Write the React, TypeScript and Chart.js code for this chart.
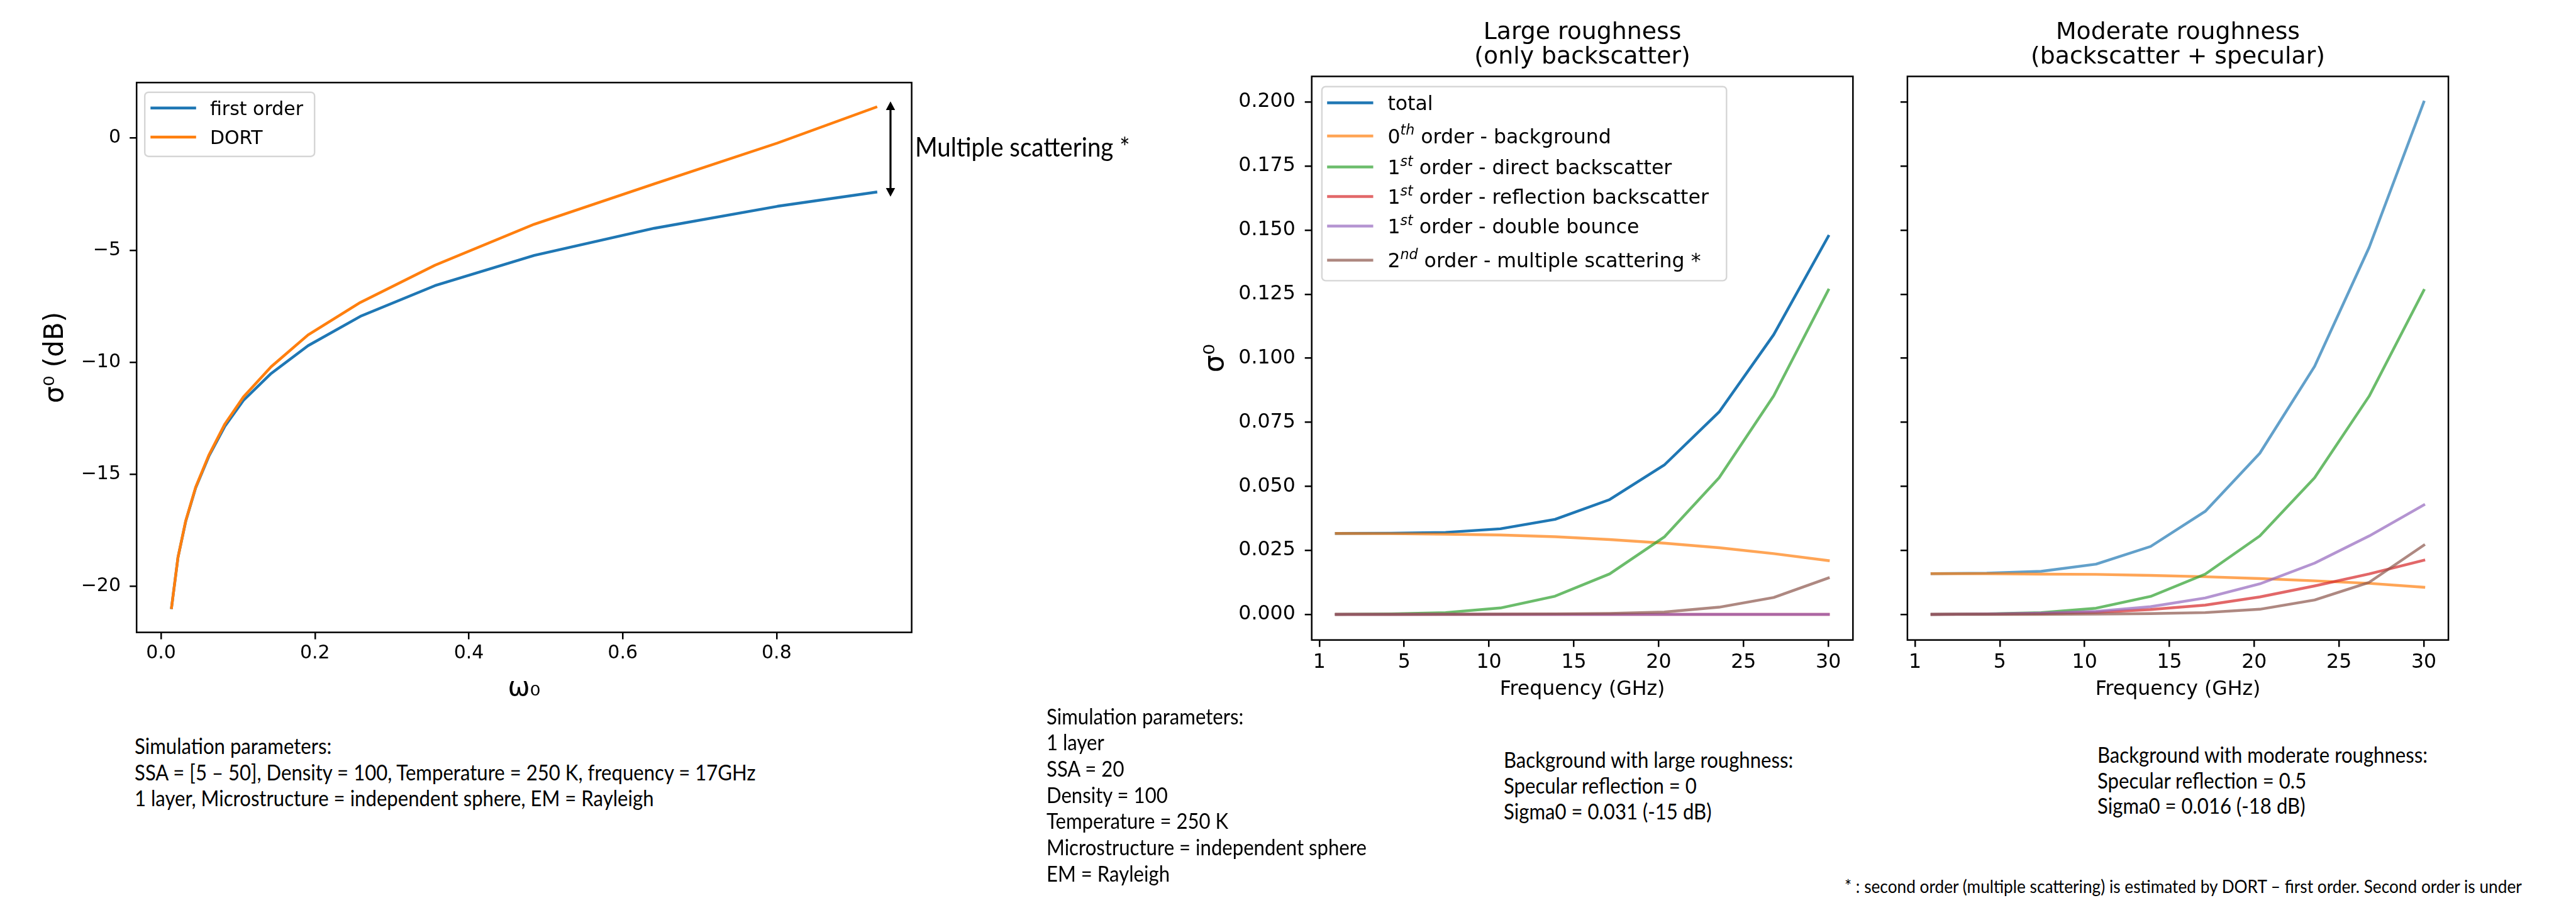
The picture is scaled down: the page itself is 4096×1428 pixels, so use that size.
import React, { useEffect, useRef, useState } from 'react';
import { Chart, registerables } from 'chart.js';

Chart.register(...registerables);

// ---------------- data ----------------
// Left panel: sigma0 (dB) versus single scattering albedo omega0
const omega0 = [0.0136, 0.022, 0.032, 0.045, 0.062, 0.083, 0.107, 0.143, 0.191, 0.259, 0.356, 0.485, 0.641, 0.801, 0.929];
const firstOrderDb = [-20.95, -18.7, -17.1, -15.6, -14.2, -12.85, -11.7, -10.5, -9.26, -7.95, -6.58, -5.23, -4.02, -3.04, -2.41];
const dortDb = [-20.95, -18.7, -17.08, -15.57, -14.15, -12.75, -11.55, -10.2, -8.78, -7.33, -5.67, -3.84, -2.04, -0.22, 1.38];
const leftLabels = ['first order', 'DORT'];
const omegaTicks = [0, 0.2, 0.4, 0.6, 0.8];
const sigmaDbTicks = [-20, -15, -10, -5, 0];

// Right panels: sigma0 versus frequency
const freqGHz = [1, 4.22, 7.44, 10.67, 13.89, 17.11, 20.33, 23.56, 26.78, 30];
const freqTickValues = [0, 5, 10, 15, 20, 25, 30];
const freqTickLabels = ['1', '5', '10', '15', '20', '25', '30'];
const sigmaTicks = [0, 0.025, 0.05, 0.075, 0.1, 0.125, 0.15, 0.175, 0.2];

const seriesLabels = [
  'total',
  '0^{th} order - background',
  '1^{st} order - direct backscatter',
  '1^{st} order - reflection backscatter',
  '1^{st} order - double bounce',
  '2^{nd} order - multiple scattering *',
];

const largeTotal = [0.0316, 0.0317, 0.032, 0.0334, 0.0371, 0.0448, 0.0583, 0.079, 0.1092, 0.1476];
const largeBackground = [0.0316, 0.0315, 0.0313, 0.031, 0.0303, 0.0292, 0.0278, 0.026, 0.0237, 0.021];
const largeDirect = [0.0, 0.0002, 0.0007, 0.0025, 0.0071, 0.0158, 0.0302, 0.0533, 0.0853, 0.1266];
const largeReflection = [0, 0, 0, 0, 0, 0, 0, 0, 0, 0];
const largeDouble = [0, 0, 0, 0, 0, 0, 0, 0, 0, 0];
const largeMultiple = [0, 0, 0.00005, 0.0001, 0.0002, 0.0004, 0.0009, 0.0028, 0.0066, 0.0142];

const modTotal = [0.0159, 0.0161, 0.0168, 0.0196, 0.0265, 0.0402, 0.0629, 0.0968, 0.1433, 0.2];
const modBackground = [0.0159, 0.0159, 0.0157, 0.0156, 0.0152, 0.0147, 0.014, 0.0131, 0.0121, 0.0106];
const modDirect = [0.0, 0.0002, 0.0007, 0.0024, 0.007, 0.0157, 0.0306, 0.0533, 0.0852, 0.1265];
const modReflection = [0, 0.0001, 0.0003, 0.0008, 0.0019, 0.0036, 0.0068, 0.0111, 0.0158, 0.0211];
const modDouble = [0, 0.0001, 0.0005, 0.0012, 0.003, 0.0064, 0.0119, 0.02, 0.0306, 0.0427];
const modMultiple = [0, 0, 0, 0.0001, 0.0003, 0.0007, 0.002, 0.0056, 0.0125, 0.027];

// annotation texts
const paramsLeft = [
  'Simulation parameters:',
  'SSA = [5 – 50], Density = 100, Temperature = 250 K, frequency = 17GHz',
  '1 layer, Microstructure = independent sphere, EM = Rayleigh',
];
const paramsMid = [
  'Simulation parameters:',
  '1 layer',
  'SSA = 20',
  'Density = 100',
  'Temperature = 250 K',
  'Microstructure = independent sphere',
  'EM = Rayleigh',
];
const bgLarge = ['Background with large roughness:', 'Specular reflection = 0', 'Sigma0 = 0.031 (-15 dB)'];
const bgModerate = ['Background with moderate roughness:', 'Specular reflection = 0.5', 'Sigma0 = 0.016 (-18 dB)'];
const footnote = '* : second order (multiple scattering) is estimated by DORT – first order. Second order is under';
const arrowLabel = 'Multiple scattering *';
const titleLarge = ['Large roughness', '(only backscatter)'];
const titleModerate = ['Moderate roughness', '(backscatter + specular)'];

// ---------------- styles ----------------
const DV = '"DejaVu Sans", sans-serif';
const CAL = 'Lato, "Open Sans", sans-serif';
const LW = 4.4;
const FRAME = 2.5;
const TICK_LEN = 11;

const tab = {
  blue: [31, 119, 180],
  orange: [255, 127, 14],
  green: [44, 160, 44],
  red: [214, 39, 40],
  purple: [148, 103, 189],
  brown: [140, 86, 75],
};
const rgba = (c: number[], a: number) => `rgba(${c[0]},${c[1]},${c[2]},${a})`;

const tickGrid = {
  display: true,
  drawOnChartArea: false,
  drawTicks: true,
  tickLength: TICK_LEN,
  color: '#000',
  lineWidth: FRAME,
};

function drawRich(ctx: CanvasRenderingContext2D, text: string, x: number, baseline: number, size: number) {
  const parts = text.split(/(\^\{[^}]*\})/);
  let cx = x;
  for (const p of parts) {
    if (!p) continue;
    const m = p.match(/^\^\{([^}]*)\}$/);
    if (m) {
      ctx.font = `italic ${size * 0.7}px ${DV}`;
      ctx.fillText(m[1], cx, baseline - size * 0.42);
      cx += ctx.measureText(m[1]).width;
    } else {
      ctx.font = `${size}px ${DV}`;
      ctx.fillText(p, cx, baseline);
      cx += ctx.measureText(p).width;
    }
  }
}

const decorPlugin = {
  id: 'decor',
  afterDraw(chart: any, _args: any, opts: any) {
    const { ctx, chartArea: a } = chart;
    ctx.save();
    // frame
    ctx.strokeStyle = '#000';
    ctx.lineWidth = FRAME;
    ctx.strokeRect(a.left, a.top, a.right - a.left, a.bottom - a.top);

    // title
    if (opts.title) {
      ctx.fillStyle = '#000';
      ctx.font = `${opts.title.size}px ${DV}`;
      ctx.textAlign = 'center';
      ctx.textBaseline = 'alphabetic';
      const cx = (a.left + a.right) / 2;
      const lines = opts.title.lines;
      for (let i = 0; i < lines.length; i++) ctx.fillText(lines[i], cx, opts.title.baselines[i]);
    }

    // legend
    if (opts.legend) {
      const L = opts.legend;
      const x0 = a.left + L.x;
      const y0 = a.top + L.y;
      ctx.beginPath();
      ctx.roundRect(x0, y0, L.w, L.h, L.radius);
      ctx.fillStyle = 'rgba(255,255,255,0.8)';
      ctx.fill();
      ctx.strokeStyle = 'rgba(204,204,204,0.8)';
      ctx.lineWidth = 2.4;
      ctx.stroke();
      ctx.textAlign = 'left';
      ctx.textBaseline = 'alphabetic';
      chart.data.datasets.forEach((ds: any, i: number) => {
        const cy = y0 + L.rows[i];
        ctx.strokeStyle = ds.borderColor;
        ctx.lineWidth = ds.borderWidth;
        ctx.lineCap = 'square';
        ctx.beginPath();
        ctx.moveTo(x0 + L.lineX0, cy);
        ctx.lineTo(x0 + L.lineX1, cy);
        ctx.stroke();
        ctx.fillStyle = '#000';
        drawRich(ctx, ds.label, x0 + L.textX, cy + 0.36 * L.size, L.size);
      });
    }

    // double arrow
    if (opts.arrow) {
      const A = opts.arrow;
      const xs = chart.scales.x;
      const ys = chart.scales.y;
      const px = xs.getPixelForValue(A.x);
      const pTop = ys.getPixelForValue(A.y0);
      const pBot = ys.getPixelForValue(A.y1);
      ctx.strokeStyle = '#000';
      ctx.fillStyle = '#000';
      ctx.lineWidth = A.width;
      ctx.lineCap = 'butt';
      ctx.beginPath();
      ctx.moveTo(px, pTop + A.headL * 0.8);
      ctx.lineTo(px, pBot - A.headL * 0.8);
      ctx.stroke();
      ctx.beginPath();
      ctx.moveTo(px, pTop);
      ctx.lineTo(px - A.headW / 2, pTop + A.headL);
      ctx.lineTo(px + A.headW / 2, pTop + A.headL);
      ctx.closePath();
      ctx.fill();
      ctx.beginPath();
      ctx.moveTo(px, pBot);
      ctx.lineTo(px - A.headW / 2, pBot - A.headL);
      ctx.lineTo(px + A.headW / 2, pBot - A.headL);
      ctx.closePath();
      ctx.fill();
    }
    ctx.restore();
  },
};

const minus = (v: number) => (v < 0 ? '\u2212' + Math.abs(v) : String(v));

// ---------------- geometry (output px) ----------------
const LEFT_CANVAS = { left: 0, top: 0, width: 1475, height: 1135 };
const MID_CANVAS = { left: 1880, top: 0, width: 1080, height: 1135 };
const RIGHT_CANVAS = { left: 2990, top: 0, width: 920, height: 1135 };

function leftConfig(): any {
  const mk = (label: string, ys: number[], color: number[], order: number) => ({
    label,
    data: omega0.map((x, i) => ({ x, y: ys[i] })),
    borderColor: rgba(color, 1),
    backgroundColor: rgba(color, 1),
    borderWidth: LW,
    borderCapStyle: 'square',
    borderJoinStyle: 'round',
    pointRadius: 0,
    tension: 0,
    fill: false,
    order,
  });
  return {
    type: 'line',
    data: { datasets: [mk(leftLabels[0], firstOrderDb, tab.blue, 2), mk(leftLabels[1], dortDb, tab.orange, 1)] },
    options: {
      responsive: false,
      animation: false,
      devicePixelRatio: 1,
      events: [],
      layout: { padding: { left: 68, top: 131.3, right: 25.4, bottom: 18.5 }, autoPadding: false },
      plugins: {
        legend: { display: false },
        tooltip: { enabled: false },
        title: { display: false },
        decor: {
          legend: { x: 13, y: 15.4, w: 270, h: 102, radius: 6, lineX0: 11.3, lineX1: 79.4, textX: 103.7, rows: [25.1, 71.3], size: 30 },
          arrow: { x: 0.948, y0: 1.64, y1: -2.61, width: 3.2, headW: 14.6, headL: 13.8 },
        },
      },
      scales: {
        x: {
          type: 'linear',
          min: -0.0318,
          max: 0.9755,
          afterBuildTicks: (s: any) => { s.ticks = omegaTicks.map((v) => ({ value: v })); },
          afterFit: (s: any) => { s.height = 110.9; },
          ticks: { callback: (v: number) => v.toFixed(1), font: { family: DV, size: 30 }, color: '#000', padding: 5, maxRotation: 0, autoSkip: false },
          grid: tickGrid,
          border: { display: false },
          title: { display: true, text: 'ω₀', font: { family: DV, size: 42, lineHeight: 1 }, color: '#000', padding: 0 },
        },
        y: {
          type: 'linear',
          min: -22.05,
          max: 2.48,
          afterBuildTicks: (s: any) => { s.ticks = sigmaDbTicks.map((v) => ({ value: v })); },
          afterFit: (s: any) => { s.width = 149.2; },
          ticks: { callback: (v: number) => minus(v), font: { family: DV, size: 30 }, color: '#000', padding: 14.2, autoSkip: false },
          grid: tickGrid,
          border: { display: false },
          title: { display: true, text: 'σ⁰ (dB)', font: { family: DV, size: 42, lineHeight: 1 }, color: '#000', padding: 0 },
        },
      },
    },
    plugins: [decorPlugin],
  };
}

function freqConfig(kind: 'large' | 'moderate'): any {
  const isLarge = kind === 'large';
  const values = isLarge
    ? [largeTotal, largeBackground, largeDirect, largeReflection, largeDouble, largeMultiple]
    : [modTotal, modBackground, modDirect, modReflection, modDouble, modMultiple];
  const colors = [tab.blue, tab.orange, tab.green, tab.red, tab.purple, tab.brown];
  const alphas = isLarge ? [1, 0.7, 0.7, 0.7, 0.7, 0.7] : [0.7, 0.7, 0.7, 0.7, 0.7, 0.7];
  const datasets = values.map((ys, k) => ({
    label: seriesLabels[k],
    data: freqGHz.map((x, i) => ({ x, y: ys[i] })),
    borderColor: rgba(colors[k], alphas[k]),
    backgroundColor: rgba(colors[k], alphas[k]),
    borderWidth: LW,
    borderCapStyle: 'square',
    borderJoinStyle: 'round',
    pointRadius: 0,
    tension: 0,
    fill: false,
    order: values.length - k,
  }));
  const plotLeft = isLarge ? 205.7 : 42.9;
  const padLeft = isLarge ? 32 : 0;
  const padRight = isLarge ? 13.7 : 16.9;
  return {
    type: 'line',
    data: { datasets },
    options: {
      responsive: false,
      animation: false,
      devicePixelRatio: 1,
      events: [],
      layout: { padding: { left: padLeft, top: 121.5, right: padRight, bottom: 22.2 }, autoPadding: false },
      plugins: {
        legend: { display: false },
        tooltip: { enabled: false },
        title: { display: false },
        decor: {
          title: { lines: isLarge ? titleLarge : titleModerate, baselines: [61.5, 100.5], size: 37.8 },
          legend: isLarge
            ? { x: 16.2, y: 16.2, w: 643.4, h: 308.7, radius: 6, lineX0: 10.5, lineX1: 79.4, textX: 104.5, rows: [25.8, 78.6, 127.8, 174.8, 221.8, 276.1], size: 31.6 }
            : undefined,
        },
      },
      scales: {
        x: {
          type: 'linear',
          min: -0.45,
          max: 31.45,
          afterBuildTicks: (s: any) => { s.ticks = freqTickValues.map((v) => ({ value: v })); },
          afterFit: (s: any) => { s.height = 95.1; },
          ticks: {
            callback: (v: number) => freqTickLabels[freqTickValues.indexOf(v)],
            font: { family: DV, size: 31.6 },
            color: '#000',
            padding: 6.5,
            maxRotation: 0,
            autoSkip: false,
          },
          grid: tickGrid,
          border: { display: false },
          title: { display: true, text: 'Frequency (GHz)', font: { family: DV, size: 31.6, lineHeight: 1 }, color: '#000', padding: 0 },
        },
        y: {
          type: 'linear',
          min: -0.01,
          max: 0.21,
          afterBuildTicks: (s: any) => { s.ticks = sigmaTicks.map((v) => ({ value: v })); },
          afterFit: (s: any) => { s.width = plotLeft - padLeft; },
          ticks: {
            display: isLarge,
            callback: (v: number) => v.toFixed(3),
            font: { family: DV, size: 31.6 },
            color: '#000',
            padding: 14.9,
            autoSkip: false,
          },
          grid: tickGrid,
          border: { display: false },
          title: { display: isLarge, text: 'σ⁰', font: { family: DV, size: 44, lineHeight: 1 }, color: '#000', padding: 0 },
        },
      },
    },
    plugins: [decorPlugin],
  };
}

function ChartCanvas({ box, make }: { box: { left: number; top: number; width: number; height: number }; make: () => any }) {
  const ref = useRef<HTMLCanvasElement | null>(null);
  useEffect(() => {
    if (!ref.current) return;
    const chart = new Chart(ref.current, make());
    return () => chart.destroy();
  }, []);
  return (
    <canvas
      ref={ref}
      width={box.width}
      height={box.height}
      style={{ position: 'absolute', left: box.left, top: box.top, width: box.width, height: box.height }}
    />
  );
}

function TextBlock({ lines, x, y, size, lh, squeeze }: { lines: string[]; x: number; y: number; size: number; lh: number; squeeze: number }) {
  return (
    <div
      style={{
        position: 'absolute',
        left: x,
        top: y - lh / 2,
        fontFamily: CAL,
        fontSize: size,
        lineHeight: `${lh}px`,
        color: '#000',
        whiteSpace: 'pre',
        transform: `scaleX(${squeeze})`,
        transformOrigin: 'left top',
      }}
    >
      {lines.map((l, i) => (
        <div key={i}>{l}</div>
      ))}
    </div>
  );
}

export default function App() {
  const [squeeze, setSqueeze] = useState(0.93);
  useEffect(() => {
    const c = document.createElement('canvas').getContext('2d');
    if (!c) return;
    c.font = `34.4px ${CAL}`;
    const w = c.measureText(paramsLeft[1]).width;
    if (w > 0) setSqueeze(991 / w);
  }, []);

  return (
    <div style={{ position: 'absolute', left: 0, top: 0, width: 4096, height: 1428, background: '#fff', overflow: 'hidden' }}>
      <ChartCanvas box={LEFT_CANVAS} make={leftConfig} />
      <ChartCanvas box={MID_CANVAS} make={() => freqConfig('large')} />
      <ChartCanvas box={RIGHT_CANVAS} make={() => freqConfig('moderate')} />
      <TextBlock lines={[arrowLabel]} x={1455.3} y={233} size={42.5} lh={50} squeeze={squeeze} />
      <TextBlock lines={paramsLeft} x={214} y={1185.7} size={34.4} lh={41.7} squeeze={squeeze} />
      <TextBlock lines={paramsMid} x={1664.4} y={1138.5} size={34.4} lh={41.7} squeeze={squeeze} />
      <TextBlock lines={bgLarge} x={2391.2} y={1208.7} size={34.4} lh={40.6} squeeze={squeeze} />
      <TextBlock lines={bgModerate} x={3335.2} y={1200.6} size={34.4} lh={40.6} squeeze={squeeze} />
      <TextBlock lines={[footnote]} x={2933.3} y={1408.5} size={29} lh={35} squeeze={squeeze} />
    </div>
  );
}
